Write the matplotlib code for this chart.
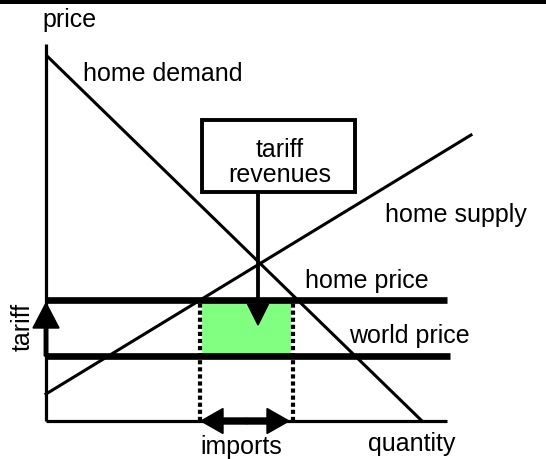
import matplotlib
matplotlib.use("Agg")
import matplotlib.pyplot as plt
from matplotlib.patches import Rectangle

# ---- data (diagram units: quantity to the right, price upward, origin at axes corner)
demand_q = [1, 376]
demand_p = [365, 0]
supply_q = [0, 425]
supply_p = [27, 286]
home_price = 121
world_price = 65
axis_q_end = 401
axis_p_end = 377
home_price_q_end = 401
world_price_q_end = 404
imports_q = [154, 247]
revenue_arrow_q = 212
box_q = [156, 309]
box_p = [229, 301]

labels = {
    "price": "price",
    "quantity": "quantity",
    "demand": "home demand",
    "supply": "home supply",
    "home": "home price",
    "world": "world price",
    "tariff": "tariff",
    "imports": "imports",
    "box": ["tariff", "revenues"],
}

plt.rcParams["font.family"] = ["Liberation Sans", "DejaVu Sans"]
FS = 18

fig = plt.figure(figsize=(5.46, 4.59), dpi=100)
ax = fig.add_axes([0, 0, 1, 1])
ax.set_xlim(-46, 500)
ax.set_ylim(-38, 421)
ax.axis("off")

# top black bar
ax.axhspan(417, 421, color="black", lw=0)

# green tariff revenue rectangle
ax.add_patch(Rectangle((imports_q[0], world_price), imports_q[1] - imports_q[0],
                       home_price - world_price, facecolor="#80FF80", edgecolor="none", zorder=1))

# axes
ax.plot([0, 0], [0, axis_p_end], color="black", lw=2.3, solid_capstyle="butt", zorder=3)
ax.plot([0, axis_q_end], [0, 0], color="black", lw=2.3, solid_capstyle="butt", zorder=3)

# demand and supply
ax.plot(demand_q, demand_p, color="black", lw=2.2, zorder=3)
ax.plot(supply_q, supply_p, color="black", lw=2.2, zorder=3)

# price lines
ax.plot([0, home_price_q_end], [home_price, home_price], color="black", lw=4.8,
        solid_capstyle="butt", zorder=4)
ax.plot([0, world_price_q_end], [world_price, world_price], color="black", lw=4.8,
        solid_capstyle="butt", zorder=4)

# dotted import boundaries
for q in imports_q:
    ax.plot([q, q], [0, home_price], color="white", lw=3, zorder=2)
    ax.plot([q, q], [0, home_price], color="black", lw=3, linestyle=(0, (1.0, 0.7)),
            solid_capstyle="butt", dash_capstyle="butt", zorder=2)

# tariff arrow on the price axis
ax.arrow(0, world_price, 0, home_price - world_price - 3, width=3.5, head_width=26,
         head_length=25, length_includes_head=True, color="black", zorder=5)

# imports double arrow
mid = (imports_q[0] + imports_q[1]) / 2
for start, end in [(mid, imports_q[0] + 1), (mid, imports_q[1] - 4)]:
    ax.arrow(start, 0, end - start, 0, width=6, head_width=25, head_length=22,
             length_includes_head=True, color="black", zorder=5)

# callout box
ax.add_patch(Rectangle((box_q[0], box_p[0]), box_q[1] - box_q[0], box_p[1] - box_p[0],
                       facecolor="white", edgecolor="black", lw=2.8, zorder=6))
ax.text((box_q[0] + box_q[1]) / 2 + 1, 264, labels["box"][0], ha="center", va="baseline",
        fontsize=FS, zorder=7)
ax.text((box_q[0] + box_q[1]) / 2 + 1, 239, labels["box"][1], ha="center", va="baseline",
        fontsize=FS, zorder=7)

# revenue arrow
ax.arrow(revenue_arrow_q, box_p[0], 0, 96 - box_p[0], width=2.4, head_width=21,
         head_length=21, length_includes_head=True, color="black", zorder=5)

# text labels
ax.text(-4, 394, labels["price"], ha="left", va="baseline", fontsize=FS)
ax.text(37, 340, labels["demand"], ha="left", va="baseline", fontsize=FS)
ax.text(339, 199, labels["supply"], ha="left", va="baseline", fontsize=FS)
ax.text(259, 133, labels["home"], ha="left", va="baseline", fontsize=FS)
ax.text(303, 78, labels["world"], ha="left", va="baseline", fontsize=FS)
ax.text(322, -30, labels["quantity"], ha="left", va="baseline", fontsize=FS)
ax.text(154, -33, labels["imports"], ha="left", va="baseline", fontsize=FS)
ax.text(-23, 94, labels["tariff"], ha="center", va="center", rotation=90, fontsize=FS)

fig.savefig("out.png", dpi=100)
